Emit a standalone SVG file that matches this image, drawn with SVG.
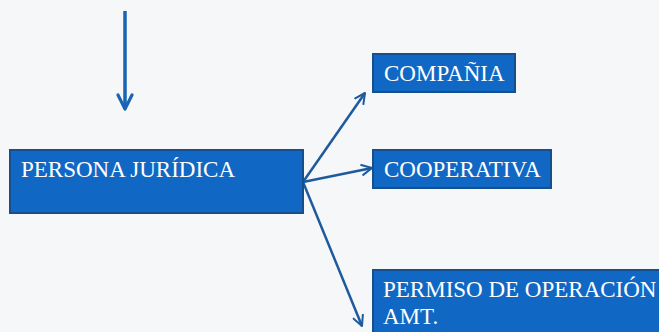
<svg xmlns="http://www.w3.org/2000/svg" width="659" height="332" viewBox="0 0 659 332">
<style>
.box{fill:#1168c4;stroke:#174f8c;stroke-width:2}
.lbl{font-family:'Liberation Serif','DejaVu Serif',serif;font-size:23px;fill:#ffffff}
.conn{stroke:#1e5a9c;stroke-width:2.5;fill:none}
</style>
<defs>
<marker id="ah" viewBox="0 0 10 10" refX="9" refY="5" markerWidth="5" markerHeight="5" orient="auto" markerUnits="strokeWidth">
<path d="M1,1 L9,5 L1,9" fill="none" stroke="#1e5a9c" stroke-width="1.6" stroke-linecap="round" stroke-linejoin="round"/>
</marker>
<marker id="ah2" viewBox="0 0 10 10" refX="9" refY="5" markerWidth="5" markerHeight="5" orient="auto" markerUnits="strokeWidth">
<path d="M1,1 L9,5 L1,9" fill="none" stroke="#1a64b4" stroke-width="1.8" stroke-linecap="round" stroke-linejoin="round"/>
</marker>
</defs>
<rect width="659" height="332" fill="#f5f7f9"/>
<g id="connectors">
<line x1="125" y1="11" x2="125" y2="109" stroke="#1a64b4" stroke-width="3.5" marker-end="url(#ah2)"/>
<line class="conn" x1="303" y1="182" x2="365" y2="93" marker-end="url(#ah)"/>
<line class="conn" x1="303" y1="182" x2="372" y2="168" marker-end="url(#ah)"/>
<line class="conn" x1="303" y1="182" x2="362" y2="326" marker-end="url(#ah)"/>
</g>
<g id="persona">
<rect class="box" x="10" y="150" width="293" height="63"/>
<text class="lbl" x="21" y="177">PERSONA JURÍDICA</text>
</g>
<g id="compania">
<rect class="box" x="373" y="54" width="142" height="38"/>
<text class="lbl" x="384" y="81">COMPAÑIA</text>
</g>
<g id="cooperativa">
<rect class="box" x="373" y="150" width="178" height="38"/>
<text class="lbl" x="384" y="177">COOPERATIVA</text>
</g>
<g id="permiso">
<rect class="box" x="373" y="270" width="290" height="70"/>
<text class="lbl" x="383" y="297">PERMISO DE OPERACIÓN</text>
<text class="lbl" x="383" y="324">AMT.</text>
</g>
</svg>
